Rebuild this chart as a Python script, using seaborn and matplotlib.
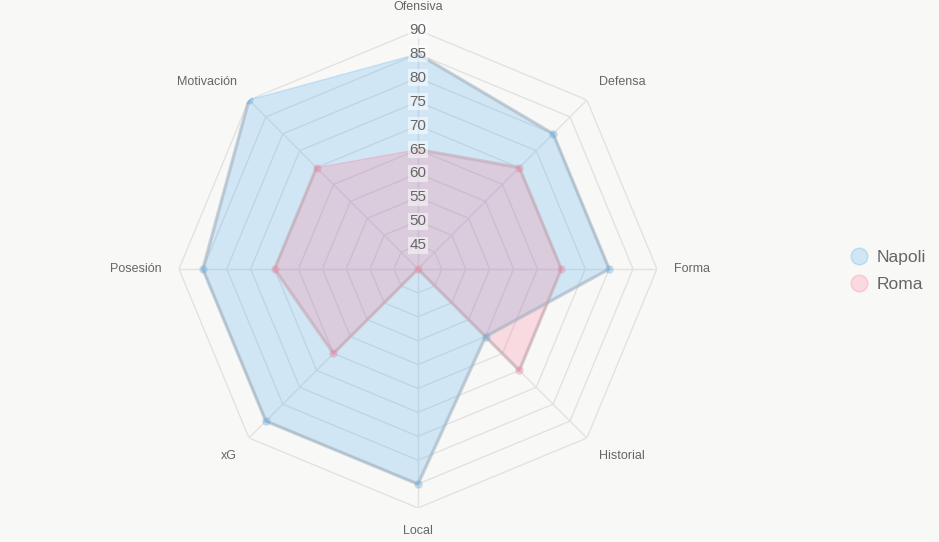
import numpy as np
import pandas as pd
import matplotlib.pyplot as plt
import seaborn as sns

# Radar data
categories = ["Ofensiva", "Defensa", "Forma", "Historial", "Local", "xG", "Posesión", "Motivación"]
napoli = [85, 80, 80, 60, 85, 85, 85, 90]
roma = [65, 70, 70, 70, 40, 65, 70, 70]
ticks = [45, 50, 55, 60, 65, 70, 75, 80, 85, 90]
r_min, r_max = 40, 90

bg = "#f8f8f7"
sns.set_theme(style="white")
plt.rcParams["font.family"] = ["Liberation Sans", "DejaVu Sans"]

n = len(categories)
angles = np.linspace(0, 2 * np.pi, n, endpoint=False)
closed = np.append(angles, angles[0])

fig = plt.figure(figsize=(9.39, 5.42), dpi=100, facecolor=bg)
ax = fig.add_axes([0.1906, 0.0627, 0.509, 0.882], projection="polar")
ax.set_facecolor(bg)
ax.set_theta_zero_location("N")
ax.set_theta_direction(-1)
ax.set_ylim(r_min, r_max)
ax.grid(False)
ax.spines["polar"].set_visible(False)
ax.set_xticks([])
ax.set_yticks([])

grid_c = "#e2e2e2"
# polygon grid rings and spokes
for t in ticks:
    ax.plot(closed, [t] * (n + 1), color=grid_c, lw=1, zorder=1)
for a in angles:
    ax.plot([a, a], [r_min, r_max], color=grid_c, lw=1, zorder=1)

series = [
    ("Napoli", napoli, (54 / 255, 162 / 255, 235 / 255), "#a9b4be"),
    ("Roma", roma, (255 / 255, 99 / 255, 132 / 255), "#c2afb8"),
]
handles = []
for name, vals, col, edge in series:
    df = pd.DataFrame({"theta": closed, "r": vals + vals[:1]})
    ax.fill(df["theta"], df["r"], color=col, alpha=0.2, zorder=2)
    sns.lineplot(data=df, x="theta", y="r", sort=False, ax=ax, color=edge,
                 lw=2.5, alpha=0.55, zorder=3)
    ax.scatter(angles, vals, s=28, color=col, alpha=0.3, edgecolor=edge,
               linewidth=1, zorder=4)
    h, = ax.plot([], [], ls="", marker="o", markersize=12,
                 markerfacecolor=(*col, 0.2), markeredgecolor=(*col, 0.25),
                 markeredgewidth=1)
    handles.append((h, name))
ax.set_xlabel("")
ax.set_ylabel("")

# tick labels along the top spoke
for t in ticks:
    ax.text(0, t, str(t), ha="center", va="center", fontsize=11, color="#666666",
            zorder=5, bbox=dict(boxstyle="square,pad=0.1", fc="white", ec="none", alpha=0.5))

# category labels
pad = 17
for a, lab in zip(angles, categories):
    s, c = np.sin(a), np.cos(a)
    ha = "center" if abs(s) < 0.1 else ("left" if s > 0 else "right")
    va = "center" if abs(c) < 0.1 else ("bottom" if c > 0 else "top")
    ax.annotate(lab, xy=(a, r_max), xytext=(pad * s, pad * c), textcoords="offset pixels",
                ha=ha, va=va, fontsize=9, color="#666666", annotation_clip=False)

leg = fig.legend([h for h, _ in handles], [nm for _, nm in handles],
                 loc="center left", bbox_to_anchor=(0.887, 0.5), frameon=False,
                 fontsize=12.5, handletextpad=0.4, labelspacing=0.7, handlelength=1.2)
for t in leg.get_texts():
    t.set_color("#666666")

fig.savefig("out.png", dpi=100, facecolor=bg)
